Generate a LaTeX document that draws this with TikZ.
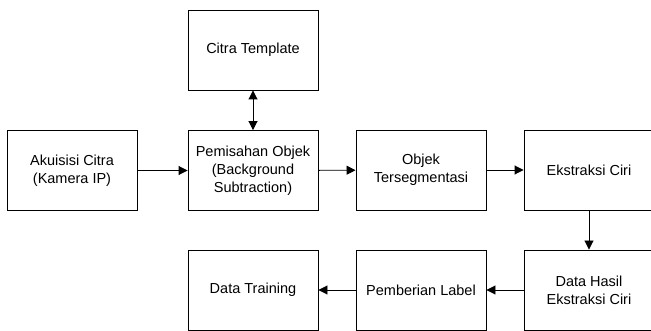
\documentclass[tikz,border=0pt]{standalone}
\usepackage{fontspec}
\setmainfont{Liberation Sans}
\usetikzlibrary{arrows.meta}
\begin{document}
\begin{tikzpicture}[x=1pt,y=-1pt,
  box/.style={draw=black,line width=0.9pt,minimum width=130pt,minimum height=80pt,align=center,inner sep=0pt,font=\fontsize{14.5pt}{18pt}\selectfont},
  conn/.style={line width=0.9pt,-{Triangle[length=9pt,width=9pt]}}]
\useasboundingbox (0,0) rectangle (651,331);
\fill[white] (0,0) rectangle (651,331);
\clip (0,0) rectangle (651,331);
\node[box] (tmpl) at (253,50) {Citra Template};
\node[box] (akuisisi) at (72,170.5) {Akuisisi Citra\\(Kamera IP)};
\node[box] (pemisahan) at (253,170.5) {Pemisahan Objek\\(Background\\Subtraction)};
\node[box] (objek) at (421,170) {Objek\\Tersegmentasi};
\node[box] (ekstraksi) at (589,170) {Ekstraksi Ciri};
\node[box] (hasil) at (589,290) {Data Hasil\\Ekstraksi Ciri};
\node[box] (label) at (421,290) {Pemberian Label};
\node[box] (training) at (253,290) {Data Training};
\draw[conn,{Triangle[length=9pt,width=9pt]}-{Triangle[length=9pt,width=9pt]}] (tmpl) -- (pemisahan);
\draw[conn] (akuisisi) -- (pemisahan);
\draw[conn] (pemisahan) -- (objek);
\draw[conn] (objek) -- (ekstraksi);
\draw[conn] (ekstraksi) -- (hasil);
\draw[conn] (hasil) -- (label);
\draw[conn] (label) -- (training);
\end{tikzpicture}
\end{document}
